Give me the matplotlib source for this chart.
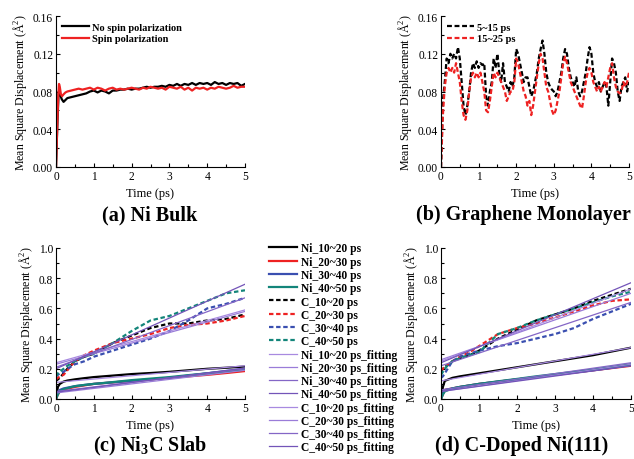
import numpy as np
import matplotlib
matplotlib.use("Agg")
import matplotlib.pyplot as plt
from matplotlib.ticker import MultipleLocator

plt.rcParams['font.family'] = ['Liberation Serif', 'DejaVu Serif']
plt.rcParams['mathtext.fontset'] = 'custom'
plt.rcParams['mathtext.rm'] = 'Liberation Serif'
plt.rcParams['mathtext.bf'] = 'Liberation Serif:bold'

# ---------------- Panel (a) Ni Bulk ----------------
a_early_t_black = [0.0, 0.04, 0.07, 0.1, 0.15, 0.2, 0.25, 0.3]
a_early_black = [0.0, 0.05, 0.08, 0.078, 0.072, 0.069, 0.071, 0.073]
a_early_t_red = [0.0, 0.03, 0.06, 0.08, 0.1, 0.13, 0.16, 0.2, 0.25, 0.3]
a_early_red = [0.0, 0.04, 0.075, 0.088, 0.085, 0.077, 0.075, 0.077, 0.079, 0.080]
a_t_grid = np.linspace(0.4, 5.0, 47)
a_black = [0.074, 0.075, 0.076, 0.077, 0.078, 0.080, 0.081, 0.079, 0.081, 0.080,
           0.078, 0.081, 0.081, 0.082, 0.082, 0.083, 0.082,
           0.083, 0.083, 0.084, 0.085, 0.084, 0.085, 0.085, 0.086, 0.085, 0.087,
           0.086, 0.088, 0.086, 0.088, 0.087, 0.089, 0.087, 0.089, 0.088, 0.089,
           0.087, 0.090, 0.088, 0.089, 0.087, 0.089, 0.088, 0.089, 0.086, 0.088]
a_red = [0.081, 0.082, 0.083, 0.082, 0.083, 0.084, 0.082, 0.084, 0.083, 0.081,
         0.083, 0.084, 0.082, 0.083, 0.082, 0.083, 0.084,
         0.083, 0.082, 0.084, 0.083, 0.085, 0.084, 0.083, 0.084, 0.082, 0.085,
         0.084, 0.083, 0.085, 0.082, 0.084, 0.081, 0.084, 0.083, 0.084, 0.082,
         0.084, 0.083, 0.085, 0.084, 0.083, 0.084, 0.086, 0.084, 0.085, 0.085]
a_labels = ["No spin polarization", "Spin polarization"]

# ---------------- Panel (b) Graphene Monolayer ----------------
b_t = np.linspace(0.0, 5.0, 101)
b_black = [0.0, 0.07, 0.09, 0.115, 0.11, 0.12, 0.115, 0.12, 0.115, 0.127,
           0.115, 0.09, 0.065, 0.055, 0.065, 0.08, 0.10, 0.11, 0.105, 0.112,
           0.105, 0.11, 0.108, 0.11, 0.075, 0.065, 0.08, 0.09, 0.115, 0.105,
           0.12, 0.10, 0.09, 0.11, 0.09, 0.085, 0.08, 0.09, 0.085, 0.095,
           0.125, 0.12, 0.11, 0.10, 0.09, 0.095, 0.095, 0.085, 0.075, 0.08,
           0.09, 0.10, 0.115, 0.125, 0.134, 0.12, 0.10, 0.09, 0.085, 0.082,
           0.08, 0.075, 0.08, 0.09, 0.10, 0.115, 0.125, 0.12, 0.105, 0.095,
           0.09, 0.085, 0.095, 0.08, 0.075, 0.08, 0.09, 0.10, 0.115, 0.127,
           0.12, 0.10, 0.09, 0.085, 0.09, 0.08, 0.085, 0.09, 0.085, 0.065,
           0.09, 0.115, 0.11, 0.10, 0.08, 0.07, 0.085, 0.09, 0.095, 0.08, 0.09]
b_red = [0.0, 0.055, 0.085, 0.10, 0.105, 0.10, 0.105, 0.10, 0.11, 0.10,
         0.09, 0.07, 0.055, 0.05, 0.06, 0.08, 0.095, 0.10, 0.095, 0.10,
         0.095, 0.10, 0.09, 0.08, 0.06, 0.058, 0.07, 0.085, 0.10, 0.095,
         0.10, 0.095, 0.09, 0.085, 0.08, 0.07, 0.075, 0.08, 0.08, 0.09,
         0.115, 0.11, 0.10, 0.09, 0.08, 0.075, 0.065, 0.07, 0.055, 0.065,
         0.08, 0.095, 0.11, 0.12, 0.115, 0.10, 0.085, 0.08, 0.07, 0.06,
         0.055, 0.06, 0.07, 0.08, 0.095, 0.11, 0.117, 0.11, 0.10, 0.09,
         0.085, 0.08, 0.075, 0.07, 0.065, 0.062, 0.075, 0.09, 0.10, 0.105,
         0.10, 0.09, 0.085, 0.08, 0.085, 0.08, 0.085, 0.09, 0.085, 0.095,
         0.105, 0.11, 0.095, 0.085, 0.08, 0.078, 0.08, 0.09, 0.085, 0.09, 0.10]
b_labels = ["5~15 ps", "15~25 ps"]

# ---------------- Panels (c) and (d) ----------------
cd_t = [0.0, 0.05, 0.1, 0.2, 0.3, 0.5, 0.75, 1.0, 1.5, 2.0, 2.5, 3.0, 3.5, 4.0, 4.5, 5.0]
series_labels = ["Ni_10~20 ps", "Ni_20~30 ps", "Ni_30~40 ps", "Ni_40~50 ps",
                 "C_10~20 ps", "C_20~30 ps", "C_30~40 ps", "C_40~50 ps"]
fit_labels = [s + "_fitting" for s in series_labels]
fit_t = [0.0, 5.0]

c_ni = [
    [0.0, 0.08, 0.10, 0.115, 0.122, 0.13, 0.138, 0.145, 0.155, 0.165, 0.172, 0.18, 0.19, 0.20, 0.207, 0.215],
    [0.0, 0.03, 0.05, 0.06, 0.068, 0.08, 0.09, 0.10, 0.11, 0.12, 0.13, 0.14, 0.15, 0.16, 0.172, 0.185],
    [0.0, 0.04, 0.06, 0.07, 0.075, 0.085, 0.093, 0.10, 0.11, 0.12, 0.13, 0.14, 0.155, 0.17, 0.185, 0.20],
    [0.0, 0.03, 0.05, 0.065, 0.072, 0.085, 0.093, 0.10, 0.112, 0.125, 0.135, 0.145, 0.158, 0.17, 0.182, 0.195],
]
c_c = [
    [0.12, 0.13, 0.14, 0.17, 0.20, 0.25, 0.28, 0.30, 0.37, 0.42, 0.47, 0.50, 0.50, 0.52, 0.53, 0.56],
    [0.13, 0.14, 0.15, 0.16, 0.19, 0.25, 0.29, 0.32, 0.37, 0.40, 0.43, 0.47, 0.49, 0.50, 0.52, 0.55],
    [0.15, 0.16, 0.17, 0.18, 0.20, 0.23, 0.25, 0.28, 0.32, 0.36, 0.40, 0.45, 0.52, 0.60, 0.63, 0.67],
    [0.15, 0.17, 0.18, 0.20, 0.22, 0.25, 0.28, 0.30, 0.37, 0.45, 0.52, 0.55, 0.60, 0.65, 0.70, 0.72],
]
c_fit = [
    [0.11, 0.22], [0.04, 0.19], [0.05, 0.20], [0.045, 0.205],
    [0.24, 0.59], [0.23, 0.58], [0.21, 0.67], [0.20, 0.76],
]

d_ni = [
    [0.0, 0.08, 0.12, 0.13, 0.14, 0.15, 0.16, 0.17, 0.19, 0.21, 0.23, 0.25, 0.27, 0.29, 0.315, 0.34],
    [0.0, 0.03, 0.06, 0.065, 0.07, 0.08, 0.09, 0.10, 0.115, 0.13, 0.145, 0.16, 0.175, 0.19, 0.205, 0.22],
    [0.0, 0.035, 0.06, 0.065, 0.07, 0.08, 0.09, 0.10, 0.115, 0.13, 0.145, 0.16, 0.175, 0.19, 0.207, 0.225],
    [0.0, 0.03, 0.05, 0.06, 0.07, 0.08, 0.09, 0.10, 0.117, 0.133, 0.15, 0.165, 0.18, 0.195, 0.212, 0.23],
]
d_c = [
    [0.18, 0.20, 0.21, 0.23, 0.25, 0.27, 0.29, 0.32, 0.40, 0.46, 0.52, 0.56, 0.60, 0.65, 0.69, 0.73],
    [0.19, 0.20, 0.21, 0.23, 0.25, 0.28, 0.31, 0.35, 0.43, 0.47, 0.50, 0.54, 0.58, 0.62, 0.65, 0.66],
    [0.14, 0.15, 0.17, 0.21, 0.25, 0.28, 0.30, 0.32, 0.35, 0.37, 0.40, 0.43, 0.47, 0.53, 0.58, 0.63],
    [0.16, 0.18, 0.20, 0.23, 0.25, 0.27, 0.29, 0.31, 0.43, 0.47, 0.52, 0.56, 0.60, 0.64, 0.68, 0.71],
]
d_fit = [
    [0.12, 0.34], [0.05, 0.23], [0.06, 0.24], [0.05, 0.22],
    [0.25, 0.73], [0.26, 0.70], [0.22, 0.64], [0.24, 0.77],
]

colors = ["#000000", "#ee2222", "#3a4fb0", "#13857a"]
fit_colors = ["#a88ae0", "#9a7cd8", "#8466c6", "#7354b8",
              "#a88ae0", "#9a7cd8", "#8466c6", "#7354b8"]

W, H = 634, 460
fig = plt.figure(figsize=(W / 100, H / 100), dpi=100)

def px_axes(l, t, r, b):
    return fig.add_axes([l / W, 1 - b / H, (r - l) / W, (b - t) / H])

ax_a = px_axes(56, 17, 245, 168)
ax_b = px_axes(441, 17, 629, 168)
ax_c = px_axes(56, 249, 245, 400)
ax_d = px_axes(441, 249, 631, 400)

def style(ax, ymax, ymaj, fmt):
    ax.set_xlim(0, 5)
    ax.set_ylim(0, ymax)
    ax.xaxis.set_major_locator(MultipleLocator(1))
    ax.xaxis.set_minor_locator(MultipleLocator(0.5))
    ax.yaxis.set_major_locator(MultipleLocator(ymaj))
    ax.yaxis.set_minor_locator(MultipleLocator(ymaj / 2))
    ax.yaxis.set_major_formatter(plt.FormatStrFormatter(fmt))
    ax.spines['top'].set_visible(False)
    ax.spines['right'].set_visible(False)
    for s in ('left', 'bottom'):
        ax.spines[s].set_linewidth(0.8)
    ax.tick_params(which='both', direction='in', labelsize=8.3, width=0.8, pad=2)
    ax.tick_params(which='major', length=3)
    ax.tick_params(which='minor', length=2)
    ax.set_xlabel("Time (ps)", fontsize=9, labelpad=4)
    ax.set_ylabel("Mean Square Displacement (Å$^2$)", fontsize=8.6, labelpad=3)

# (a)
ax_a.plot(np.concatenate([a_early_t_black, a_t_grid]), a_early_black + a_black,
          color=colors[0], lw=1.6, label=a_labels[0])
ax_a.plot(np.concatenate([a_early_t_red, a_t_grid]), a_early_red + a_red,
          color=colors[1], lw=1.6, label=a_labels[1])
style(ax_a, 0.16, 0.04, "%.2f")
ax_a.legend(loc='upper left', frameon=False, prop={'weight': 'bold', 'size': 7.5},
            handlelength=2.6, handletextpad=0.3, borderaxespad=0.2, labelspacing=0.25)

# (b)
ax_b.plot(b_t, b_black, color=colors[0], lw=1.6, dashes=(2.2, 1.2), label=b_labels[0])
ax_b.plot(b_t, b_red, color=colors[1], lw=1.6, dashes=(2.2, 1.2), label=b_labels[1])
style(ax_b, 0.16, 0.04, "%.2f")
ax_b.legend(loc='upper left', frameon=False, prop={'weight': 'bold', 'size': 7.5},
            handlelength=2.6, handletextpad=0.3, borderaxespad=0.2, labelspacing=0.25)

# (c), (d)
def draw_slab(ax, ni, cc, fits):
    handles = []
    for i in range(4):
        h, = ax.plot(cd_t, ni[i], color=colors[i], lw=1.6, label=series_labels[i])
        handles.append(h)
    for i in range(4):
        h, = ax.plot(cd_t, cc[i], color=colors[i], lw=1.6, dashes=(2.0, 1.2),
                     label=series_labels[4 + i])
        handles.append(h)
    for i in range(8):
        h, = ax.plot(fit_t, fits[i], color=fit_colors[i], lw=0.9, label=fit_labels[i])
        handles.append(h)
    style(ax, 1.0, 0.2, "%.1f")
    return handles

handles = draw_slab(ax_c, c_ni, c_c, c_fit)
draw_slab(ax_d, d_ni, d_c, d_fit)

fig.legend(handles=handles, loc='upper left', bbox_to_anchor=(266 / W, 1 - 240 / H),
           frameon=False, prop={'weight': 'bold', 'size': 8.3}, handlelength=2.4,
           handletextpad=0.3, labelspacing=0.11, borderaxespad=0.0, borderpad=0.3)

# panel titles
title_kw = dict(ha='center', va='center', fontsize=14.5, fontweight='bold')
fig.text(150 / W, 1 - 215 / H, "(a) Ni Bulk", **title_kw)
fig.text(523.5 / W, 1 - 215 / H, "(b) Graphene Monolayer", **title_kw)
fig.text(150 / W, 1 - 446 / H, r"(c) Ni$_\mathbf{3}$C Slab", **title_kw)
fig.text(522 / W, 1 - 446 / H, "(d) C-Doped Ni(111)", **title_kw)

fig.savefig("out.png", dpi=100)
